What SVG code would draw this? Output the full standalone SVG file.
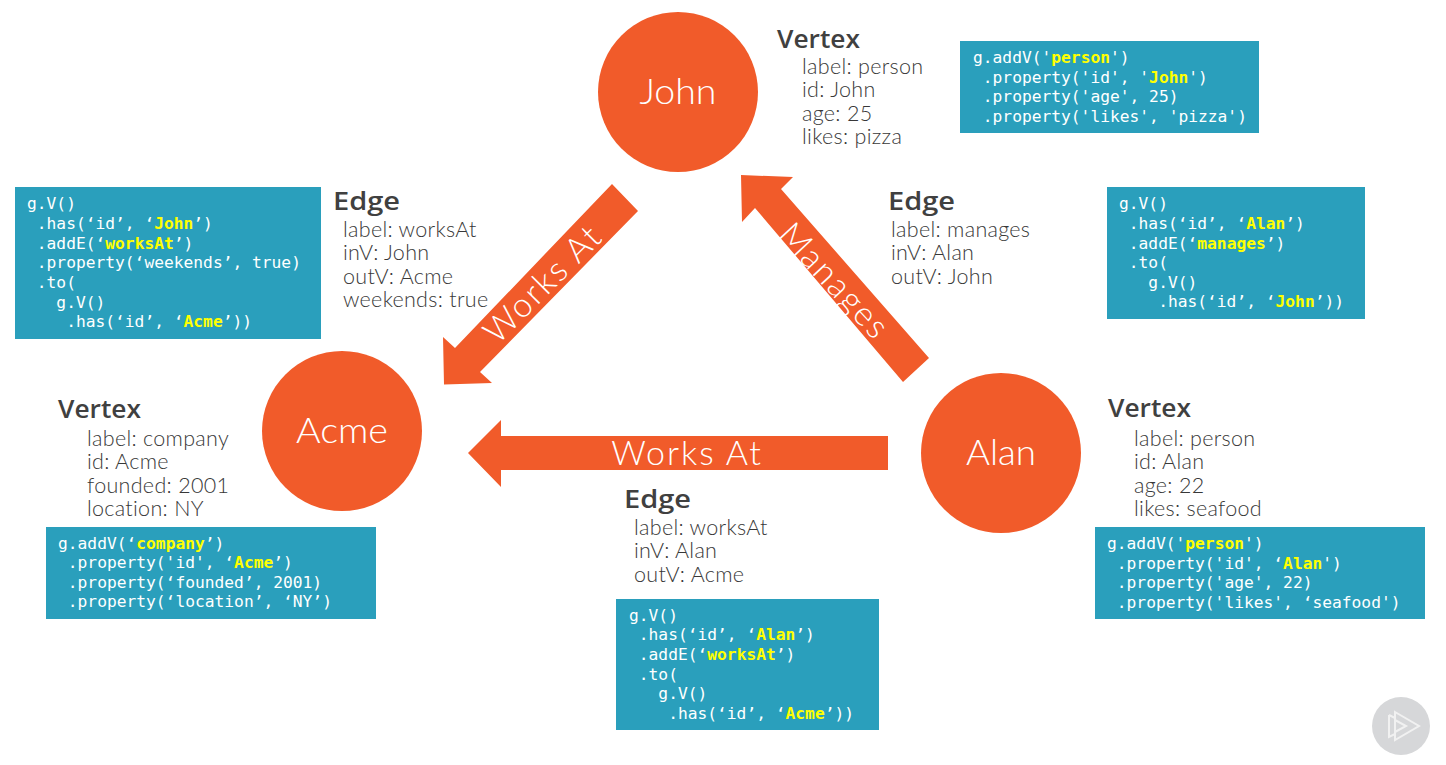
<svg xmlns="http://www.w3.org/2000/svg" width="1446" height="765" viewBox="0 0 1446 765">
<style>
.o{fill:#f15b2a}
.c{fill:#2a9fbc}
.n{font-family:"Lato","Liberation Sans",sans-serif;font-size:35px;font-weight:300;fill:#fff;text-anchor:middle}
.h{font-family:"Open Sans","Liberation Sans",sans-serif;font-size:26px;font-weight:600;fill:#404040}
.t{font-family:"Lato","Liberation Sans",sans-serif;font-size:21.5px;font-weight:300;fill:#383838;letter-spacing:.3px}
.a{font-family:"Lato","Liberation Sans",sans-serif;font-size:34px;font-weight:300;fill:#fff;text-anchor:middle;letter-spacing:2px}
.m{font-family:"DejaVu Sans Mono","Liberation Mono",monospace;font-size:16.25px;fill:#fff;white-space:pre}
.m tspan{fill:#ffff00;font-weight:700}
</style>
<rect width="1446" height="765" fill="#fff"/>
<g id="connectors">
<g id="edge-acme-john"><polygon class="o" points="612,184 638,211 480,372 492,383 444,384.500 443,337 455,348"/><text class="a" transform="translate(551,292) rotate(-45)">Works At</text></g>
<g id="edge-alan-john"><polygon class="o" points="741,175 793,177 781,189 929,358 903,382 755,208 742,222"/><text class="a" transform="translate(826,289) rotate(47)">Manages</text></g>
<g id="edge-alan-acme"><polygon class="o" points="468,453 501,420 501,436 888,436 888,470 501,470 501,487"/><text class="a" x="687" y="465">Works At</text></g>
</g>
<g id="john"><circle class="o" cx="678" cy="92" r="80"/><text class="n" x="678" y="104" textLength="77" lengthAdjust="spacingAndGlyphs">John</text>
<text class="h" x="777" y="48" textLength="83" lengthAdjust="spacingAndGlyphs">Vertex</text>
<text class="t" x="802" y="73.500">label: person</text><text class="t" x="802" y="97">id: John</text><text class="t" x="802" y="120.500">age: 25</text><text class="t" x="802" y="144">likes: pizza</text></g>
<g id="john-code"><rect class="c" x="960" y="41" width="299" height="92"/>
<text class="m" x="973" y="63">g.addV('<tspan>person</tspan>')</text>
<text class="m" x="973" y="83"> .property('id', '<tspan>John</tspan>')</text>
<text class="m" x="973" y="102"> .property('age', 25)</text>
<text class="m" x="973" y="122"> .property('likes', 'pizza')</text></g>
<g id="acme"><circle class="o" cx="342" cy="431" r="80"/><text class="n" x="342" y="443" textLength="92" lengthAdjust="spacingAndGlyphs">Acme</text>
<text class="h" x="58" y="418" textLength="83" lengthAdjust="spacingAndGlyphs">Vertex</text>
<text class="t" x="87" y="445.500">label: company</text><text class="t" x="87" y="469">id: Acme</text><text class="t" x="87" y="492.500">founded: 2001</text><text class="t" x="87" y="516">location: NY</text></g>
<g id="acme-code"><rect class="c" x="46" y="527" width="330" height="92"/>
<text class="m" x="58" y="549">g.addV(‘<tspan>company</tspan>’)</text>
<text class="m" x="58" y="568"> .property('id', ‘<tspan>Acme</tspan>’)</text>
<text class="m" x="58" y="588"> .property(‘founded’, 2001)</text>
<text class="m" x="58" y="607"> .property(‘location’, ‘NY’)</text></g>
<g id="alan"><circle class="o" cx="1001" cy="453" r="80"/><text class="n" x="1001" y="465" textLength="70" lengthAdjust="spacingAndGlyphs">Alan</text>
<text class="h" x="1108" y="417" textLength="83" lengthAdjust="spacingAndGlyphs">Vertex</text>
<text class="t" x="1134" y="445.500">label: person</text><text class="t" x="1134" y="469">id: Alan</text><text class="t" x="1134" y="492.500">age: 22</text><text class="t" x="1134" y="516">likes: seafood</text></g>
<g id="alan-code"><rect class="c" x="1095" y="527" width="330" height="92"/>
<text class="m" x="1107" y="549">g.addV('<tspan>person</tspan>')</text>
<text class="m" x="1107" y="569"> .property('id', ‘<tspan>Alan</tspan>')</text>
<text class="m" x="1107" y="588"> .property('age', 22)</text>
<text class="m" x="1107" y="608"> .property('likes', ‘seafood')</text></g>
<g id="edge1-label"><text class="h" x="333" y="210" textLength="67" lengthAdjust="spacingAndGlyphs">Edge</text>
<text class="t" x="343" y="236.500">label: worksAt</text><text class="t" x="343" y="260">inV: John</text><text class="t" x="343" y="283.500">outV: Acme</text><text class="t" x="343" y="307">weekends: true</text></g>
<g id="edge1-code"><rect class="c" x="15" y="187" width="306" height="152"/>
<text class="m" x="27" y="209">g.V()</text>
<text class="m" x="27" y="229"> .has(‘id’, ‘<tspan>John</tspan>’)</text>
<text class="m" x="27" y="249"> .addE(‘<tspan>worksAt</tspan>’)</text>
<text class="m" x="27" y="268"> .property(‘weekends’, true)</text>
<text class="m" x="27" y="288"> .to(</text>
<text class="m" x="27" y="308">   g.V()</text>
<text class="m" x="27" y="327">    .has(‘id’, ‘<tspan>Acme</tspan>’))</text></g>
<g id="edge2-label"><text class="h" x="888" y="210" textLength="67" lengthAdjust="spacingAndGlyphs">Edge</text>
<text class="t" x="891" y="236.500">label: manages</text><text class="t" x="891" y="260">inV: Alan</text><text class="t" x="891" y="283.500">outV: John</text></g>
<g id="edge2-code"><rect class="c" x="1107" y="187" width="258" height="132"/>
<text class="m" x="1119" y="209">g.V()</text>
<text class="m" x="1119" y="229"> .has(‘id’, ‘<tspan>Alan</tspan>’)</text>
<text class="m" x="1119" y="249"> .addE(‘<tspan>manages</tspan>’)</text>
<text class="m" x="1119" y="268"> .to(</text>
<text class="m" x="1119" y="288">   g.V()</text>
<text class="m" x="1119" y="307">    .has(‘id’, ‘<tspan>John</tspan>’))</text></g>
<g id="edge3-label"><text class="h" x="624" y="508" textLength="67" lengthAdjust="spacingAndGlyphs">Edge</text>
<text class="t" x="634" y="534.500">label: worksAt</text><text class="t" x="634" y="558">inV: Alan</text><text class="t" x="634" y="581.500">outV: Acme</text></g>
<g id="edge3-code"><rect class="c" x="616" y="599" width="263" height="131"/>
<text class="m" x="629" y="621">g.V()</text>
<text class="m" x="629" y="640"> .has(‘id’, ‘<tspan>Alan</tspan>’)</text>
<text class="m" x="629" y="660"> .addE(‘<tspan>worksAt</tspan>’)</text>
<text class="m" x="629" y="680"> .to(</text>
<text class="m" x="629" y="699">   g.V()</text>
<text class="m" x="629" y="719">    .has(‘id’, ‘<tspan>Acme</tspan>’))</text></g>
<g id="logo"><circle cx="1401" cy="726" r="29" fill="#d6d7d9"/>
<path d="M1389 715L1389 737L1395 734M1389 715L1395 718M1395 712L1419 726L1395 740ZM1395 720L1406 726L1395 732" fill="none" stroke="#f1f1f1" stroke-width="2"/></g>
</svg>
